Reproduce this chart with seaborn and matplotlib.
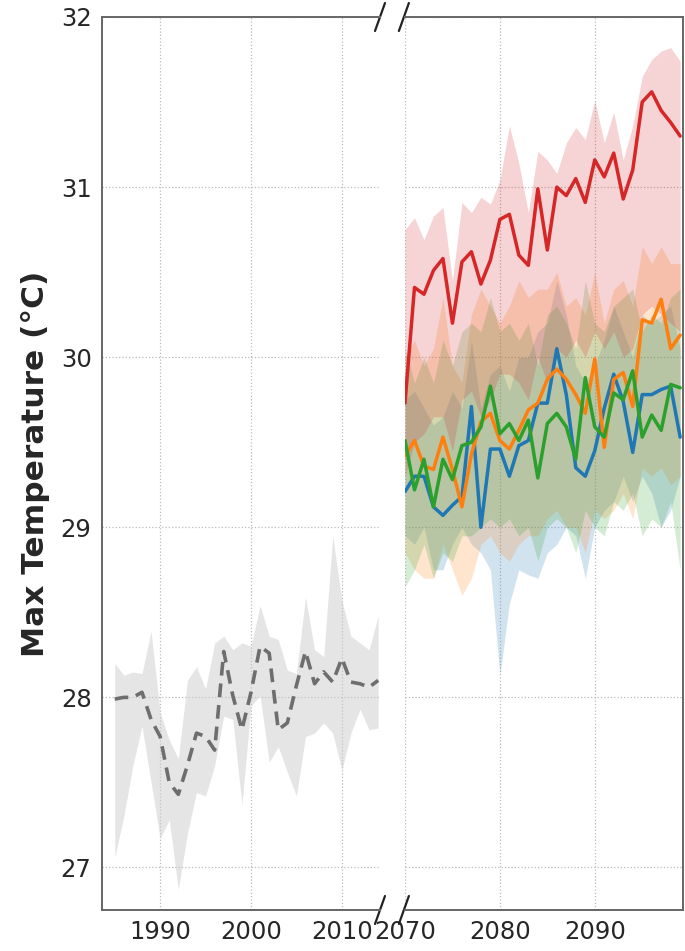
import numpy as np
import pandas as pd
import matplotlib
matplotlib.use("Agg")
import matplotlib.pyplot as plt
import seaborn as sns

# ---------------- data ----------------
hist_years = list(range(1985, 2015))
hist_mean = [27.99, 28.00, 28.00, 28.03, 27.87, 27.77, 27.50, 27.43, 27.60, 27.79,
             27.77, 27.69, 28.27, 28.01, 27.81, 28.03, 28.30, 28.26, 27.81, 27.85,
             28.07, 28.27, 28.08, 28.15, 28.09, 28.23, 28.09, 28.08, 28.06, 28.10]
hist_upper = [28.20, 28.13, 28.15, 28.14, 28.39, 27.91, 27.75, 27.64, 28.10, 28.18,
              28.05, 28.32, 28.36, 28.28, 28.32, 28.30, 28.54, 28.36, 28.34, 28.16,
              28.14, 28.59, 28.28, 28.24, 28.95, 28.57, 28.36, 28.32, 28.28, 28.48]
hist_lower = [27.06, 27.30, 27.60, 27.83, 27.50, 27.17, 27.28, 26.87, 27.20, 27.44,
              27.42, 27.60, 27.89, 27.87, 27.37, 27.95, 28.01, 27.62, 27.71, 27.56,
              27.42, 27.77, 27.79, 27.85, 27.79, 27.57, 27.79, 27.93, 27.81, 27.82]

fut_years = list(range(2070, 2100))
ssp126_mean = [29.21, 29.30, 29.30, 29.12, 29.07, 29.13, 29.18, 29.71, 29.00, 29.46,
               29.46, 29.30, 29.48, 29.51, 29.73, 29.73, 30.05, 29.78, 29.35, 29.30,
               29.45, 29.70, 29.90, 29.74, 29.44, 29.78, 29.78, 29.81, 29.83, 29.53]
ssp126_upper = [29.75, 29.80, 29.70, 29.60, 29.65, 29.80, 29.70, 30.10, 29.70, 29.90,
                29.95, 29.80, 30.00, 30.00, 30.15, 30.20, 30.45, 30.25, 29.95, 29.85,
                29.95, 30.10, 30.30, 30.15, 30.00, 30.25, 30.20, 30.25, 30.30, 30.05]
ssp126_lower = [28.95, 28.90, 29.00, 28.75, 28.75, 28.90, 29.00, 28.90, 28.85, 28.75,
                28.13, 28.55, 28.75, 28.72, 28.70, 28.85, 28.90, 29.00, 28.95, 28.70,
                29.00, 29.10, 29.15, 29.30, 29.15, 29.30, 29.20, 29.00, 29.10, 29.30]

ssp245_mean = [29.42, 29.51, 29.36, 29.34, 29.53, 29.34, 29.12, 29.43, 29.62, 29.67,
               29.51, 29.46, 29.57, 29.69, 29.73, 29.87, 29.93, 29.87, 29.78, 29.67,
               29.99, 29.47, 29.87, 29.91, 29.71, 30.22, 30.20, 30.34, 30.05, 30.13]
ssp245_upper = [30.00, 30.10, 29.95, 30.05, 30.35, 29.95, 29.85, 30.25, 30.40, 30.30,
                30.20, 30.30, 30.45, 30.35, 30.40, 30.40, 30.50, 30.30, 30.35, 30.25,
                30.50, 30.20, 30.40, 30.45, 30.30, 30.65, 30.55, 30.65, 30.55, 30.55]
ssp245_lower = [28.85, 28.75, 28.70, 28.70, 28.90, 28.75, 28.60, 28.70, 28.90, 28.95,
                28.85, 28.80, 28.90, 28.95, 28.95, 29.05, 29.10, 29.00, 29.00, 28.85,
                29.10, 29.05, 29.10, 29.20, 29.05, 29.35, 29.30, 29.35, 29.25, 29.30]

ssp370_mean = [29.51, 29.22, 29.40, 29.12, 29.40, 29.28, 29.48, 29.50, 29.59, 29.83,
               29.55, 29.61, 29.51, 29.63, 29.29, 29.61, 29.67, 29.59, 29.40, 29.88,
               29.59, 29.53, 29.79, 29.75, 29.92, 29.53, 29.66, 29.57, 29.84, 29.82]
ssp370_upper = [30.05, 29.85, 30.00, 29.85, 30.10, 29.95, 30.15, 30.20, 30.15, 30.35,
                30.15, 30.20, 30.10, 30.20, 29.95, 30.25, 30.30, 30.20, 30.05, 30.45,
                30.20, 30.15, 30.30, 30.35, 30.40, 30.15, 30.25, 30.20, 30.35, 30.40]
ssp370_lower = [28.65, 28.75, 28.90, 28.70, 28.85, 28.80, 28.95, 28.95, 29.00, 29.05,
                29.00, 29.05, 28.95, 29.00, 28.80, 29.00, 29.05, 29.00, 28.85, 29.10,
                29.00, 28.95, 29.15, 29.10, 29.20, 28.95, 29.05, 29.00, 29.15, 28.75]

ssp585_mean = [29.73, 30.41, 30.37, 30.51, 30.58, 30.20, 30.56, 30.62, 30.43, 30.57,
               30.81, 30.84, 30.60, 30.54, 30.99, 30.63, 31.00, 30.95, 31.05, 30.91,
               31.16, 31.06, 31.20, 30.93, 31.10, 31.50, 31.56, 31.45, 31.38, 31.30]
ssp585_upper = [30.75, 30.82, 30.69, 30.83, 30.88, 30.45, 30.91, 30.85, 30.94, 30.90,
                31.04, 31.36, 31.14, 30.85, 31.21, 31.16, 31.08, 31.26, 31.35, 31.28,
                31.51, 31.26, 31.44, 31.16, 31.36, 31.65, 31.75, 31.80, 31.82, 31.74]
ssp585_lower = [29.30, 29.50, 29.55, 29.65, 29.65, 29.45, 29.75, 29.80, 29.65, 29.75,
                29.90, 29.90, 29.85, 29.75, 30.00, 29.85, 30.05, 30.00, 30.10, 30.00,
                30.15, 30.05, 30.15, 30.00, 30.05, 30.25, 30.30, 30.25, 30.20, 30.15]

scenarios = ["SSP1-2.6", "SSP2-4.5", "SSP3-7.0", "SSP5-8.5"]
scen_colors = ["tab:blue", "tab:orange", "tab:green", "tab:red"]
y_ticks = [27, 28, 29, 30, 31, 32]
hist_xticks = [1990, 2000, 2010]
fut_xticks = [2070, 2080, 2090]

# ---------------- style ----------------
sns.set_style("white")
plt.rcParams["font.family"] = ["DejaVu Sans"]

fig = plt.figure(figsize=(6.85, 9.51), dpi=100)
ax1 = fig.add_axes([102 / 685, 41 / 951, 278 / 685, 893 / 951])
ax2 = fig.add_axes([405 / 685, 41 / 951, 278 / 685, 893 / 951], sharey=ax1)

hist_df = pd.DataFrame({"year": hist_years, "tmax": hist_mean})
ax1.fill_between(hist_years, hist_lower, hist_upper, color="#cccccc", alpha=0.5, lw=0)
sns.lineplot(data=hist_df, x="year", y="tmax", ax=ax1, color="#6e6e6e",
             linestyle=(0, (3.8, 2.2)), lw=2.6)

means = [ssp126_mean, ssp245_mean, ssp370_mean, ssp585_mean]
uppers = [ssp126_upper, ssp245_upper, ssp370_upper, ssp585_upper]
lowers = [ssp126_lower, ssp245_lower, ssp370_lower, ssp585_lower]
for name, col, m, up, lo in zip(scenarios, scen_colors, means, uppers, lowers):
    ax2.fill_between(fut_years, lo, up, color=col, alpha=0.2, lw=0)
for name, col, m in zip(scenarios, scen_colors, means):
    df = pd.DataFrame({"year": fut_years, "tmax": m})
    sns.lineplot(data=df, x="year", y="tmax", ax=ax2, color=col, lw=2.5)

ax1.set_xlim(1983.6, 2014.2)
ax2.set_xlim(2070, 2099.3)
ax1.set_ylim(26.75, 32)

for ax in (ax1, ax2):
    ax.grid(True, linestyle=":", color="#bbbbbb", lw=0.9)
    ax.set_xlabel("")
    ax.set_ylabel("")
    ax.tick_params(axis="both", labelsize=17.5, length=4, width=1, color="#555555")
    for s in ax.spines.values():
        s.set_color("#666666")
        s.set_linewidth(1.4)

ax1.set_xticks(hist_xticks)
ax2.set_xticks(fut_xticks)
ax1.set_yticks(y_ticks)
ax1.spines["right"].set_visible(False)
ax2.spines["left"].set_visible(False)
ax2.tick_params(axis="y", left=False, labelleft=False)
ax1.set_ylabel("Max Temperature (°C)", fontsize=22.5, fontweight="bold", labelpad=8)

# break marks
dx1, dy = 5 / 278, 14 / 893
kw = dict(color="#222222", lw=1.6, clip_on=False)
for yy in (0, 1):
    ax1.plot([1 - dx1, 1 + dx1], [yy - dy, yy + dy], transform=ax1.transAxes, **kw)
    ax2.plot([-dx1 - 0.004, dx1 - 0.004], [yy - dy, yy + dy], transform=ax2.transAxes, **kw)

fig.savefig("out.png", dpi=100)
